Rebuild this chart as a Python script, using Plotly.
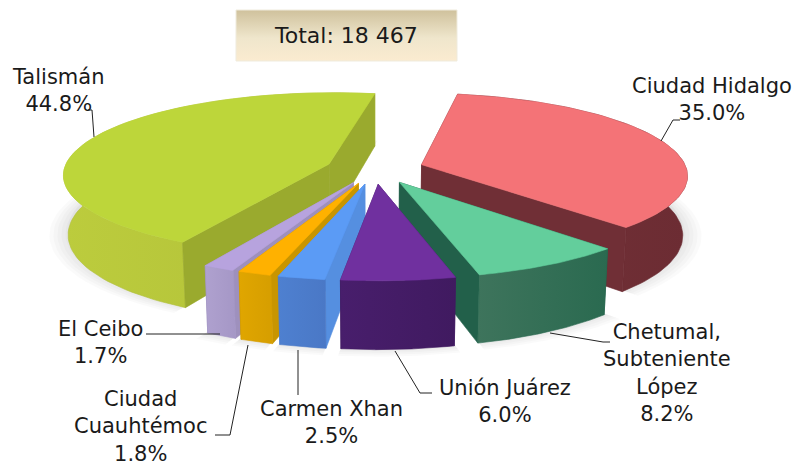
import numpy as np
import plotly.graph_objects as go

# --- data ---
names = ["Ciudad Hidalgo", "Chetumal,<br>Subteniente<br>López", "Unión Juárez", "Carmen Xhan",
         "Ciudad<br>Cuauhtémoc", "El Ceibo", "Talismán"]
shares = [35.0, 8.2, 6.0, 2.5, 1.8, 1.7, 44.8]
total_label = "Total: 18 467"
top_colors = ["#F47377", "#63CE9C", "#70309F", "#5B9BF5", "#FFB100", "#B7A3DE", "#BDD63A"]
outer_light = ["#743238", "#3E745C", "#481E6C", "#4E80D0", "#E0A600", "#AFA1CF", "#BCCC3D"]
outer_dark = ["#6C2C33", "#2A6A50", "#401A60", "#4A78C6", "#D69E00", "#A597C6", "#B0BF38"]
side_colors = ["#702F36", "#22604A", "#441C66", "#558FE0", "#C89500", "#9E90BD", "#9AAA2E"]
label_x = [712, 667, 505, 331, 140, 100, 58]
label_y = [99, 373, 401, 422, 426, 342, 90]
leaders = [[(661, 141), (673, 120), (680, 120)], [(550, 333), (603, 342), (610, 342)],
           [(395, 351), (420, 393), (432, 393)], [(298, 350), (298, 395)],
           [(248, 345), (230, 435), (215, 435)], [(220, 334), (146, 334)],
           [(94, 137), (92, 110), (88, 110)]]

# 3-D look of the pie
START = 10.0      # degrees clockwise from 12 o'clock
CX, CY = 375, 169
A, B, K = 265, 81, 0.12
EXPLODE = 0.185
H = 59
TAPER = 0.985
draw_order = [0, 6, 5, 4, 3, 1, 2]

FONT = "DejaVu Sans"
fig = go.Figure()


def proj(X, Y, z):
    s = 1 / (1 - K * Y)
    sx = CX + A * X * s
    sy = CY + B * Y * s
    return sx - (sx - CX) * (1 - TAPER) * z, sy + H * s * z


def poly(x, y, color, opacity=1.0, line=True, grad=None):
    kw = {}
    if grad:
        kw["fillgradient"] = dict(type="horizontal", colorscale=[[0, grad[0]], [1, grad[1]]])
    else:
        kw["fillcolor"] = color
    fig.add_trace(go.Scatter(
        x=np.r_[x, x[0]], y=np.r_[y, y[0]], mode="lines", fill="toself",
        line=dict(color=color, width=0.6 if line else 0), opacity=opacity,
        hoverinfo="skip", showlegend=False, **kw))


edges = START + np.cumsum([0] + shares) * 3.6
geom = []
for i in range(len(shares)):
    a0, a1 = np.radians(edges[i]), np.radians(edges[i + 1])
    m = (a0 + a1) / 2
    geom.append((a0, a1, EXPLODE * np.sin(m), -EXPLODE * np.cos(m)))

# soft shadow under the pie
for grow, drop in [(1.07, 0.98), (1.055, 0.98), (1.04, 0.98), (1.025, 0.98), (1.01, 0.98), (1.0, 0.92)]:
    for i in range(len(shares)):
        a0, a1, ox, oy = geom[i]
        t = np.linspace(a0, a1, 60)
        X = np.r_[ox, ox + grow * np.sin(t)]
        Y = np.r_[oy, oy - grow * np.cos(t)]
        sx, sy = proj(X, Y, drop)
        poly(sx, sy, "#000000", 0.018, line=False)

# slices, back to front
for i in draw_order:
    a0, a1, ox, oy = geom[i]
    t = np.linspace(a0, a1, 80)
    ax, ay = np.sin(t) + ox, -np.cos(t) + oy
    faces = []
    for a in (a0, a1):
        X = np.array([ox, ox + np.sin(a)])
        Y = np.array([oy, oy - np.cos(a)])
        faces.append((Y.mean(), X, Y, side_colors[i], None))
    faces.append((ay.mean() + (0.5 if ay.mean() > 0 else -0.5), ax, ay, outer_dark[i],
                  (outer_light[i], outer_dark[i])))
    for _, X, Y, c, g in sorted(faces, key=lambda f: f[0]):
        tx, ty = proj(X, Y, 0)
        bx, by = proj(X, Y, 1)
        poly(np.r_[tx, bx[::-1]], np.r_[ty, by[::-1]], c, grad=g)
    tx, ty = proj(np.r_[ox, ax], np.r_[oy, ay], 0)
    poly(tx, ty, top_colors[i])

# title box
fig.add_trace(go.Scatter(
    x=[236, 457, 457, 236, 236], y=[10, 10, 61, 61, 10], mode="lines", fill="toself",
    line=dict(color="#EFEBDD", width=1), hoverinfo="skip", showlegend=False,
    fillgradient=dict(type="vertical", colorscale=[[0, "#FBEBD0"], [0.45, "#EFE6CC"], [1, "#CFC19C"]])))

fig.add_annotation(x=346, y=35, text=total_label, showarrow=False, xref="x", yref="y",
                   font=dict(family=FONT, size=22, color="#1a1a1a"))
for name, sh, lx, ly in zip(names, shares, label_x, label_y):
    fig.add_annotation(x=lx, y=ly, text=f"{name}<br>{sh:.1f}%", showarrow=False, xref="x", yref="y",
                       align="center", font=dict(family=FONT, size=21, color="#1a1a1a"))
for pts in leaders:
    fig.add_trace(go.Scatter(x=[p[0] for p in pts], y=[p[1] for p in pts], mode="lines",
                             line=dict(color="#222222", width=1), hoverinfo="skip", showlegend=False))

fig.update_layout(
    width=797, height=464, margin=dict(l=0, r=0, t=0, b=0), paper_bgcolor="white", plot_bgcolor="white",
    xaxis=dict(range=[0, 797], visible=False, fixedrange=True),
    yaxis=dict(range=[464, 0], visible=False, fixedrange=True),
)
fig.write_html("out.html", config={"displayModeBar": False},
               post_script="document.body.style.margin='0';document.documentElement.style.overflow='hidden';")
